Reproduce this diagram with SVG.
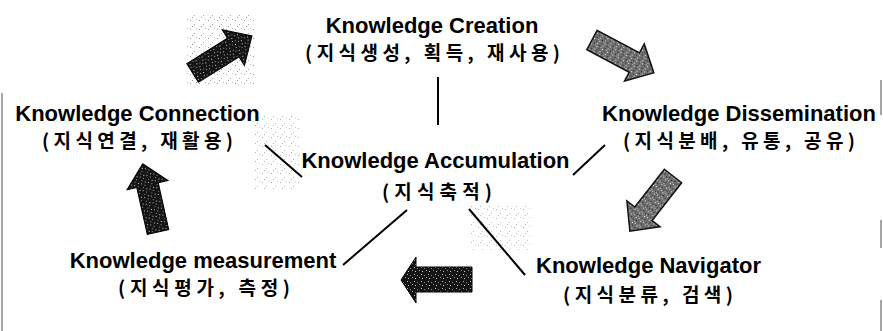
<svg xmlns="http://www.w3.org/2000/svg" width="883" height="331" viewBox="0 0 883 331">
<defs>
<pattern id="darkTex" width="7" height="7" patternUnits="userSpaceOnUse">
<rect width="7" height="7" fill="#151515"/>
<rect x="1" y="1" width="1" height="1" fill="#bbb"/>
<rect x="4" y="2" width="1" height="1" fill="#888"/>
<rect x="2" y="5" width="1" height="1" fill="#ccc"/>
<rect x="6" y="4" width="1" height="1" fill="#999"/>
</pattern>
<pattern id="grayTex" width="6" height="6" patternUnits="userSpaceOnUse">
<rect width="6" height="6" fill="#6e6e6e"/>
<rect x="0" y="0" width="1" height="1" fill="#ddd"/>
<rect x="3" y="1" width="1" height="1" fill="#222"/>
<rect x="1" y="3" width="1" height="1" fill="#eee"/>
<rect x="4" y="4" width="1" height="1" fill="#333"/>
<rect x="5" y="2" width="1" height="1" fill="#bbb"/>
</pattern>
<pattern id="stipple" width="9" height="9" patternUnits="userSpaceOnUse">
<rect x="1" y="2" width="1" height="1" fill="#999"/>
<rect x="5" y="6" width="1" height="1" fill="#aaa"/>
<rect x="7" y="1" width="1" height="1" fill="#bbb"/>
<rect x="3" y="8" width="1" height="1" fill="#999"/>
</pattern>
<polygon id="arrowShape" points="0,-11 48,-11 48,-21 70,0 48,21 48,11 0,11"/>
</defs>
<style>
.title{font-family:"Liberation Sans",Arial,sans-serif;font-weight:bold;font-size:22px;fill:#000;text-anchor:middle}
.kor{font-family:"Noto Sans CJK KR","Liberation Sans",sans-serif;font-weight:bold;font-size:19px;fill:#000}
.conn{stroke:#000;stroke-width:2;fill:none}
.dark{fill:url(#darkTex);stroke:#000;stroke-width:1}
.gray{fill:url(#grayTex);stroke:#111;stroke-width:1.5}
.border{stroke:#888;stroke-width:1.5}
</style>
<rect width="883" height="331" fill="#fff"/>
<line class="border" x1="2" y1="93" x2="2" y2="331"/>
<line class="border" x1="881" y1="80" x2="881" y2="115"/>
<line class="border" x1="881" y1="220" x2="881" y2="248"/>
<line class="border" x1="881" y1="300" x2="881" y2="331"/>
<rect x="186" y="12" width="68" height="72" fill="url(#stipple)"/>
<rect x="255" y="115" width="45" height="75" fill="url(#stipple)" opacity="0.8"/>
<rect x="470" y="205" width="60" height="45" fill="url(#stipple)" opacity="0.7"/>
<g id="connectors">
<line class="conn" x1="438" y1="77" x2="438" y2="125"/>
<line class="conn" x1="265" y1="145" x2="302" y2="177"/>
<line class="conn" x1="573" y1="175" x2="605" y2="145"/>
<line class="conn" x1="407" y1="210" x2="343" y2="265"/>
<line class="conn" x1="469" y1="209" x2="525" y2="275"/>
<use href="#arrowShape" class="dark" transform="translate(192.6,73) rotate(-32)"/>
<use href="#arrowShape" class="gray" transform="translate(592,40) rotate(28)"/>
<use href="#arrowShape" class="gray" transform="translate(673,176) rotate(128)"/>
<polygon class="dark" points="472,267 416,267 416,257 401,280 416,303 416,292 472,292"/>
<use href="#arrowShape" class="dark" transform="translate(158,232) rotate(-102.6)"/>
</g>
<g id="creation">
<text class="title" x="432" y="33">Knowledge Creation</text>
<text class="kor" x="305" y="60" textLength="255" lengthAdjust="spacing">(지식생성, 획득, 재사용)</text>
</g>
<g id="connection">
<text class="title" x="137.5" y="120.5">Knowledge Connection</text>
<text class="kor" x="42" y="147.5" textLength="191" lengthAdjust="spacing">(지식연결, 재활용)</text>
</g>
<g id="dissemination">
<text class="title" x="739" y="120.5">Knowledge Dissemination</text>
<text class="kor" x="623" y="147.5" textLength="232" lengthAdjust="spacing">(지식분배, 유통, 공유)</text>
</g>
<g id="accumulation">
<text class="title" x="435.5" y="168">Knowledge Accumulation</text>
<text class="kor" x="382" y="199" textLength="110" lengthAdjust="spacing">(지식축적)</text>
</g>
<g id="measurement">
<text class="title" x="203" y="268">Knowledge measurement</text>
<text class="kor" x="118" y="295" textLength="172" lengthAdjust="spacing">(지식평가, 측정)</text>
</g>
<g id="navigator">
<text class="title" x="648.5" y="273">Knowledge Navigator</text>
<text class="kor" x="563" y="302" textLength="170" lengthAdjust="spacing">(지식분류, 검색)</text>
</g>
</svg>
